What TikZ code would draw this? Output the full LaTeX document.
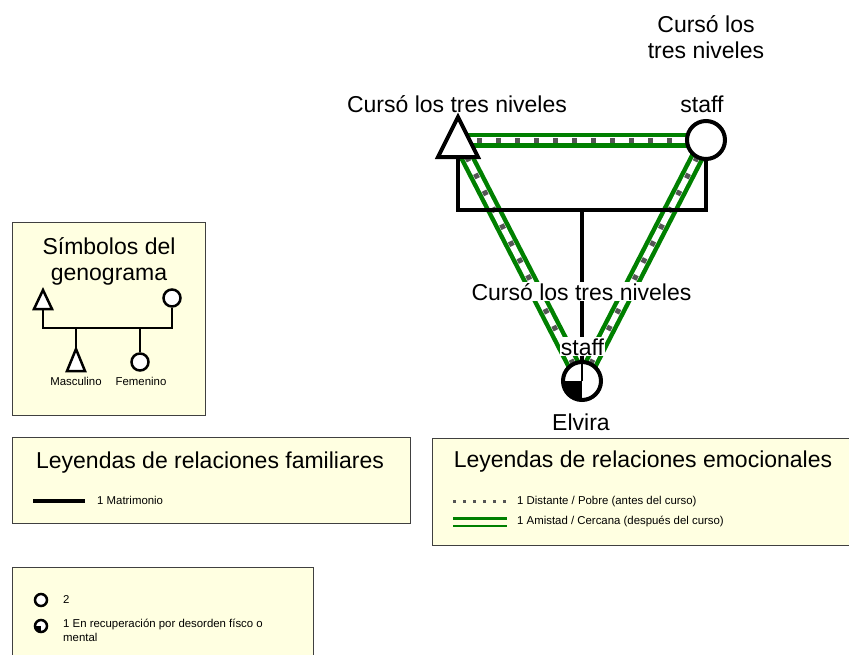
\documentclass[tikz,border=0pt]{standalone}
\usepackage{fontspec}
\setmainfont{Liberation Sans}
\usetikzlibrary{calc,positioning,backgrounds}
\definecolor{legendfill}{RGB}{255,255,225}
\definecolor{relgreen}{RGB}{0,128,0}
\definecolor{relgray}{RGB}{85,85,85}

\begin{document}
\begin{tikzpicture}[x=1pt,y=-1pt,
	  every node/.style={align=center,inner sep=0pt},
	  bigtext/.style={font=\fontsize{23}{26}\selectfont},
	  smalltext/.style={font=\fontsize{11.4}{14}\selectfont,align=left,anchor=base west},
	  tag/.style={bigtext,anchor=base,fill=white,inner sep=1pt},
	  male/.style={draw,fill=white,line width=4pt},
	  female/.style={circle,draw,fill=white,line width=4pt,minimum size=38pt},
	  keymale/.style={draw,fill=white,line width=2.5pt},
	  keyfemale/.style={circle,draw,fill=white,line width=2.5pt,minimum size=17pt},
	  marriage/.style={line width=4.5pt},
	  keyline/.style={line width=2.5pt},
	  legendbox/.style={draw=black!75,fill=legendfill,line width=0.8pt},
	  closeband/.style={draw=relgreen,line width=15pt},
	  closegap/.style={draw=white,line width=6pt},
	  distant/.style={draw=relgray,line width=5pt,dash pattern=on 5pt off 14pt}]

	  \useasboundingbox (0,0) rectangle (849,654);

	  % family
	  \coordinate (father) at (458,140);
	  \coordinate (fatherbase) at ($(father)+(0,17)$);
	  \draw[male] ($(father)+(0,-23)$) -- ++(20,40) -- ++(-40,0) -- cycle;
	  \node[female] (mother) at (706,140) {};
	  \node[female] (elvira) at (582,381) {};
	  \begin{scope}
	    \clip (elvira.center) circle (19);
	    \fill (elvira.center) rectangle (elvira.west |- elvira.south);
	  \end{scope}
	  \draw[line width=1.2pt] (elvira.north) -- (elvira.center);

	  \draw[marriage] (fatherbase) -- ++(0,53) -| (mother.south);
	  \coordinate (kid) at (582,210);
	  \draw[marriage] (kid) -- (elvira.north);

	  % emotional relations
	  \begin{scope}[on background layer]
	    \foreach \a/\b in {father/mother,father/elvira,mother/elvira}{
	      \draw[closeband] (\a.center) -- (\b.center);
	      \draw[closegap] (\a.center) -- (\b.center);
	      \draw[distant] (\a.center) -- (\b.center);
	    }
	  \end{scope}

	  % labels
	  \node[bigtext,anchor=base] (fathertag) at (457,112) {Cursó los tres niveles};
	  \node[bigtext,anchor=base] (mothertag) at (702,112) {staff};
	  \node[bigtext,anchor=base] (mothernote) at (706,58) {Cursó los\\tres niveles};
	  \node[tag] (elvianote) at (581.5,300) {Cursó los tres niveles};
	  \node[tag] (elviratag) at (582.5,355) {staff};
	  \node[bigtext,anchor=base] (elviraname) at (581,430) {Elvira};

	  % genogram symbols
	  \draw[legendbox] (12,222) rectangle (205,415);
	  \node[bigtext,anchor=base] (symboltitle) at (109,280) {Símbolos del\\genograma};
	  \coordinate (keyfather) at (43,301);
	  \draw[keymale] ($(keyfather)+(0,-11)$) -- ++(9,19) -- ++(-18,0) -- cycle;
	  \node[keyfemale] (keymother) at (172,298) {};
	  \draw[keyline] ($(keyfather)+(0,8)$) -- ++(0,19) -| (keymother.south);
	  \coordinate (keyson) at (76,360);
	  \draw[keyline] (76,328) -- ($(keyson)+(0,-11)$);
	  \draw[keymale] ($(keyson)+(0,-11)$) -- ++(9,22) -- ++(-18,0) -- cycle;
	  \node[keyfemale] (keydaughter) at (140,362) {};
	  \draw[keyline] (140,328) -- (keydaughter.north);
	  \node[smalltext,anchor=base] (masculino) at (76,385) {Masculino};
	  \node[smalltext,anchor=base] (femenino) at (141,385) {Femenino};

	  % family legend
	  \draw[legendbox] (12,437) rectangle (410,523);
	  \node[bigtext,anchor=base] (familytitle) at (210,468) {Leyendas de relaciones familiares};
	  \coordinate (marrA) at (33,501);
	  \coordinate (marrB) at (85,501);
	  \draw[line width=3.5pt] (marrA) -- (marrB);
	  \node[smalltext] (marrtext) at (97,504) {1 Matrimonio};

	  % emotional legend
	  \draw[legendbox] (432,438) rectangle (860,545);
	  \node[bigtext,anchor=base] (emotiontitle) at (643,467) {Leyendas de relaciones emocionales};
	  \coordinate (distA) at (453,501);
	  \coordinate (distB) at (507,501);
	  \draw[draw=relgray,line width=3pt,dash pattern=on 3pt off 7pt] (distA) -- (distB);
	  \node[smalltext] (disttext) at (517,504) {1 Distante / Pobre (antes del curso)};
	  \coordinate (closeA) at (453,522);
	  \coordinate (closeB) at (507,522);
	  \draw[draw=relgreen,line width=10pt] (closeA) -- (closeB);
	  \draw[draw=legendfill,line width=5pt] (closeA) -- (closeB);
	  \node[smalltext] (closetext) at (517,524) {1 Amistad / Cercana (después del curso)};

	  % condition legend
	  \draw[legendbox] (12,567) rectangle (313,670);
	  \node[circle,draw,fill=white,line width=2.5pt,minimum size=12pt] (keyplain) at (41,600) {};
	  \node[smalltext] (plaintext) at (63,603) {2};
	  \node[circle,draw,fill=white,line width=2.5pt,minimum size=12pt] (keyill) at (41,626) {};
	  \begin{scope}
	    \clip (keyill.center) circle (6);
	    \fill (keyill.center) rectangle (keyill.west |- keyill.south);
	  \end{scope}
	  \node[smalltext] (illtext) at (63,641) {1 En recuperación por desorden físco o\\mental};
\end{tikzpicture}
\end{document}
